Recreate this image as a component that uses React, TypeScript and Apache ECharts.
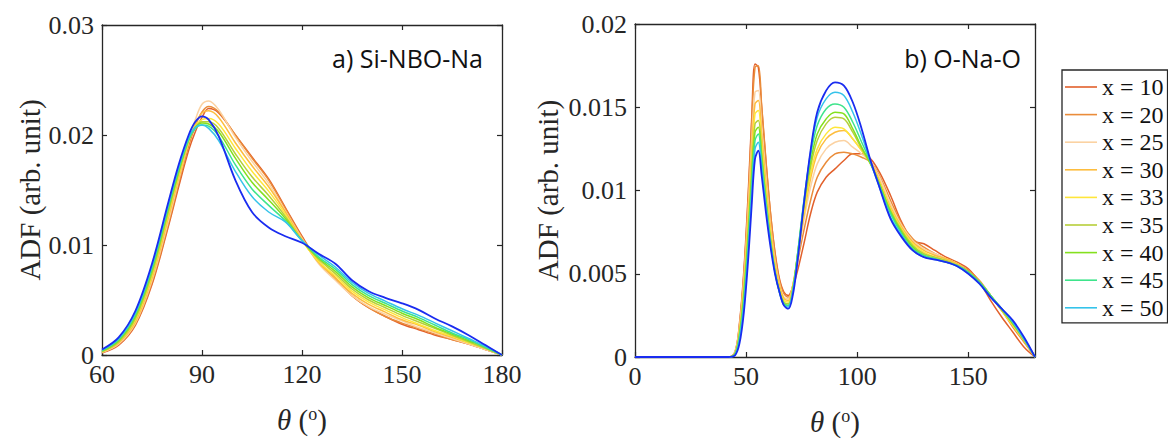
import React, { useEffect, useRef } from 'react';
import * as echarts from 'echarts';

// ---------- data (values in units of 1e-3) ----------
const SERIES_NAMES = ['x = 10', 'x = 20', 'x = 25', 'x = 30', 'x = 33', 'x = 35', 'x = 40', 'x = 45', 'x = 50'];
const EXTRA_NAME = 'blue curve';
const COLORS = ['#e2602b', '#ea8c3a', '#fbd2a2', '#fdbd3e', '#ffe63a', '#b7cf3a', '#84e01e', '#3ee48b', '#35c3ea', '#1a2cf0'];

const LEFT_THETA = [60, 65, 70, 75, 80, 83, 86, 88, 90, 92, 95, 100, 105, 110, 115, 120, 125, 130, 135, 140, 145, 150, 155, 160, 165, 170, 175, 180];
const LEFT_X10 = [0.2, 0.9, 2.7, 6.4, 11.8, 15.3, 18.6, 20.3, 21.6, 22.4, 22.0, 20.0, 18.0, 16.0, 13.4, 10.8, 8.5, 7.0, 5.4, 4.3, 3.5, 2.8, 2.3, 1.8, 1.4, 1.0, 0.5, 0];
const LEFT_X20 = [0.2, 1.0, 2.8, 6.6, 12.0, 15.6, 19.0, 20.8, 22.1, 22.6, 22.1, 20.0, 17.9, 15.9, 13.3, 10.7, 8.4, 6.9, 5.4, 4.3, 3.5, 2.9, 2.4, 1.9, 1.4, 1.0, 0.5, 0];
const LEFT_X25 = [0.25, 1.0, 2.9, 6.8, 12.3, 15.9, 19.4, 21.4, 22.8, 23.1, 22.3, 19.8, 17.6, 15.6, 13.1, 10.6, 8.3, 6.8, 5.4, 4.4, 3.7, 3.1, 2.5, 2.0, 1.5, 1.0, 0.5, 0];
const LEFT_X30 = [0.3, 1.1, 3.0, 7.0, 12.6, 16.1, 19.4, 21.0, 22.0, 22.2, 21.6, 19.3, 17.2, 15.3, 13.0, 10.5, 8.4, 7.0, 5.6, 4.6, 3.9, 3.2, 2.7, 2.1, 1.6, 1.1, 0.6, 0];
const LEFT_X33 = [0.3, 1.2, 3.2, 7.2, 12.9, 16.3, 19.4, 20.8, 21.4, 21.5, 21.0, 18.8, 16.7, 14.9, 12.8, 10.4, 8.5, 7.2, 5.8, 4.8, 4.1, 3.4, 2.8, 2.2, 1.7, 1.1, 0.6, 0];
const LEFT_X35 = [0.3, 1.2, 3.3, 7.4, 13.1, 16.5, 19.5, 20.7, 21.2, 21.2, 20.6, 18.3, 16.2, 14.5, 12.6, 10.4, 8.7, 7.4, 6.0, 5.0, 4.3, 3.6, 3.0, 2.4, 1.8, 1.2, 0.6, 0];
const LEFT_X40 = [0.35, 1.3, 3.5, 7.7, 13.4, 16.7, 19.6, 20.7, 21.1, 21.0, 20.3, 17.9, 15.7, 14.1, 12.4, 10.4, 8.8, 7.6, 6.2, 5.2, 4.5, 3.8, 3.2, 2.5, 1.9, 1.3, 0.7, 0];
const LEFT_X45 = [0.4, 1.4, 3.7, 7.9, 13.6, 16.9, 19.6, 20.6, 20.9, 20.8, 19.9, 17.3, 15.1, 13.6, 12.2, 10.4, 8.9, 7.8, 6.4, 5.4, 4.7, 4.0, 3.4, 2.7, 2.0, 1.4, 0.7, 0];
const LEFT_X50 = [0.45, 1.5, 3.8, 8.1, 13.8, 17.1, 19.8, 20.7, 20.9, 20.6, 19.5, 16.7, 14.4, 13.0, 12.1, 10.4, 9.1, 8.0, 6.6, 5.6, 4.9, 4.2, 3.6, 2.9, 2.2, 1.5, 0.8, 0];
const LEFT_EXTRA = [0.5, 1.6, 4.0, 8.3, 14.0, 17.3, 20.0, 21.2, 21.7, 21.4, 19.9, 15.9, 13.0, 11.6, 10.8, 10.2, 9.2, 8.3, 6.8, 5.8, 5.2, 4.7, 4.1, 3.3, 2.6, 1.8, 0.9, 0];

const RIGHT_THETA = [0, 42, 45, 47, 49, 51, 52.5, 54, 55.5, 57, 59, 61, 63, 65, 67, 69, 71, 73, 76, 79, 82, 86, 90, 94, 98, 102, 106, 110, 115, 120, 125, 130, 135, 140, 145, 150, 155, 160, 165, 170, 175, 180];
const RIGHT_X10 = [0, 0, 0.3, 2.0, 5.2, 10.0, 14.3, 17.6, 17.4, 15.0, 11.6, 8.6, 6.3, 4.7, 3.9, 3.7, 4.2, 5.1, 6.8, 8.6, 9.9, 10.8, 11.3, 11.8, 12.2, 12.2, 11.9, 11.1, 9.7, 8.1, 7.0, 6.8, 6.4, 6.0, 5.7, 5.3, 4.5, 3.4, 2.4, 1.5, 0.6, 0];
const RIGHT_X20 = [0, 0, 0.3, 1.9, 5.0, 9.7, 14.0, 17.4, 17.5, 15.1, 11.7, 8.6, 6.2, 4.6, 3.8, 3.6, 4.3, 5.6, 7.6, 9.4, 10.8, 11.7, 12.2, 12.3, 12.2, 12.0, 11.7, 10.9, 9.4, 8.0, 7.1, 6.6, 6.2, 5.9, 5.6, 5.2, 4.6, 3.7, 2.8, 1.8, 0.9, 0];
const RIGHT_X25 = [0, 0, 0.3, 1.8, 4.7, 9.0, 12.9, 15.9, 16.0, 13.8, 10.7, 7.9, 5.8, 4.4, 3.6, 3.5, 4.3, 5.8, 8.2, 10.2, 11.6, 12.5, 12.9, 13.0, 12.6, 12.2, 11.7, 10.8, 9.2, 7.9, 7.0, 6.5, 6.2, 5.9, 5.6, 5.1, 4.5, 3.7, 2.8, 1.9, 1.0, 0];
const RIGHT_X30 = [0, 0, 0.2, 1.6, 4.4, 8.6, 12.3, 15.2, 15.4, 13.3, 10.3, 7.7, 5.6, 4.3, 3.5, 3.4, 4.3, 5.9, 8.5, 10.7, 12.2, 13.1, 13.5, 13.6, 13.1, 12.4, 11.7, 10.6, 9.0, 7.8, 6.9, 6.4, 6.1, 5.9, 5.6, 5.1, 4.5, 3.7, 2.8, 1.9, 1.0, 0];
const RIGHT_X33 = [0, 0, 0.2, 1.5, 4.1, 8.1, 11.7, 14.6, 14.8, 12.8, 9.9, 7.4, 5.4, 4.1, 3.4, 3.3, 4.2, 5.9, 8.7, 11.0, 12.5, 13.4, 13.8, 13.7, 13.1, 12.4, 11.6, 10.5, 8.9, 7.7, 6.8, 6.3, 6.0, 5.8, 5.5, 5.1, 4.5, 3.7, 2.8, 1.9, 1.0, 0];
const RIGHT_X35 = [0, 0, 0.2, 1.4, 3.9, 7.7, 11.2, 14.0, 14.2, 12.3, 9.5, 7.1, 5.2, 4.0, 3.3, 3.2, 4.1, 6.0, 9.0, 11.4, 13.0, 14.0, 14.4, 14.3, 13.5, 12.5, 11.6, 10.4, 8.8, 7.6, 6.7, 6.2, 6.0, 5.8, 5.5, 5.1, 4.5, 3.7, 2.8, 2.0, 1.0, 0];
const RIGHT_X40 = [0, 0, 0.2, 1.3, 3.7, 7.4, 10.8, 13.5, 13.8, 12.0, 9.3, 7.0, 5.1, 3.9, 3.2, 3.1, 4.0, 6.0, 9.2, 11.7, 13.4, 14.3, 14.7, 14.6, 13.7, 12.6, 11.6, 10.4, 8.7, 7.5, 6.6, 6.1, 5.9, 5.7, 5.5, 5.1, 4.5, 3.7, 2.9, 2.0, 1.1, 0];
const RIGHT_X45 = [0, 0, 0.15, 1.2, 3.4, 7.0, 10.3, 13.0, 13.4, 11.7, 9.1, 6.9, 5.1, 3.9, 3.2, 3.1, 4.0, 6.0, 9.4, 12.1, 13.9, 14.9, 15.2, 15.0, 14.1, 12.9, 11.7, 10.3, 8.6, 7.4, 6.5, 6.1, 5.9, 5.7, 5.5, 5.1, 4.5, 3.7, 2.9, 2.1, 1.1, 0];
const RIGHT_X50 = [0, 0, 0.12, 1.0, 3.1, 6.5, 9.7, 12.5, 12.9, 11.3, 8.9, 6.8, 5.1, 3.9, 3.1, 3.0, 3.9, 5.8, 9.3, 12.3, 14.4, 15.5, 15.9, 15.7, 14.7, 13.3, 11.7, 10.2, 8.4, 7.3, 6.4, 6.0, 5.85, 5.7, 5.45, 5.0, 4.4, 3.6, 2.9, 2.1, 1.1, 0];
const RIGHT_EXTRA = [0, 0, 0.1, 0.8, 2.7, 6.0, 9.1, 11.9, 12.4, 10.9, 8.6, 6.6, 5.0, 3.9, 3.1, 2.9, 3.7, 5.6, 9.2, 12.4, 14.7, 16.0, 16.5, 16.3, 15.3, 13.7, 11.8, 10.2, 8.3, 7.2, 6.4, 6.0, 5.85, 5.7, 5.45, 5.0, 4.4, 3.6, 2.9, 2.2, 1.2, 0];

const LEFT_VALUES = [LEFT_X10, LEFT_X20, LEFT_X25, LEFT_X30, LEFT_X33, LEFT_X35, LEFT_X40, LEFT_X45, LEFT_X50, LEFT_EXTRA];
const RIGHT_VALUES = [RIGHT_X10, RIGHT_X20, RIGHT_X25, RIGHT_X30, RIGHT_X33, RIGHT_X35, RIGHT_X40, RIGHT_X45, RIGHT_X50, RIGHT_EXTRA];

const LEFT_X_TICKS = { min: 60, max: 180, interval: 30 };
const RIGHT_X_TICKS = { min: 0, max: 180, interval: 50 };
const LEFT_Y_TICKS = { min: 0, max: 0.03, interval: 0.01 };
const RIGHT_Y_TICKS = { min: 0, max: 0.02, interval: 0.005 };

const Y_NAME = 'ADF (arb. unit)';
const TITLE_A = 'a) Si-NBO-Na';
const TITLE_B = 'b) O-Na-O';

// ---------- styling ----------
const SERIF = 'Liberation Serif';
const AX = '#262626';

const fmtY = (v: number) => (v === 0 ? '0' : String(+v.toFixed(3)));

function makeX(gridIndex: number, ticks: any, bottom: boolean, hideMax: boolean) {
  return {
    type: 'value',
    gridIndex,
    position: bottom ? 'bottom' : 'top',
    min: ticks.min,
    max: ticks.max,
    interval: ticks.interval,
    axisLine: { show: true, onZero: false, lineStyle: { color: AX, width: 1.3 } },
    axisTick: { show: true, inside: true, length: 5, lineStyle: { color: AX, width: 1.2 } },
    splitLine: { show: false },
    axisLabel: bottom
      ? { show: true, fontFamily: SERIF, fontSize: 26, lineHeight: 20, color: AX, margin: 9, showMaxLabel: !hideMax, showMinLabel: true }
      : { show: false },
    name: bottom ? '{t|θ} ({s|o})' : '',
    nameLocation: 'middle',
    nameGap: 50,
    nameTextStyle: {
      fontFamily: SERIF,
      fontSize: 29,
      color: AX,
      rich: {
        t: { fontFamily: SERIF, fontSize: 29, fontStyle: 'italic', color: AX },
        s: { fontFamily: SERIF, fontSize: 18, color: AX, verticalAlign: 'top' },
      },
    },
  };
}

function makeY(gridIndex: number, ticks: any, left: boolean, gap: number) {
  return {
    type: 'value',
    gridIndex,
    position: left ? 'left' : 'right',
    min: ticks.min,
    max: ticks.max,
    interval: ticks.interval,
    axisLine: { show: true, onZero: false, lineStyle: { color: AX, width: 1.3 } },
    axisTick: { show: true, inside: true, length: 5, lineStyle: { color: AX, width: 1.2 } },
    splitLine: { show: false },
    axisLabel: left
      ? { show: true, fontFamily: SERIF, fontSize: 26, lineHeight: 18, color: AX, margin: 8, formatter: fmtY, showMinLabel: true, showMaxLabel: true }
      : { show: false },
    name: left ? Y_NAME : '',
    nameLocation: 'middle',
    nameGap: gap,
    nameRotate: 90,
    nameTextStyle: { fontFamily: SERIF, fontSize: 29, color: AX },
  };
}

export default function App() {
  const ref = useRef<HTMLDivElement>(null);
  useEffect(() => {
    if (!ref.current) return;
    const chart = echarts.init(ref.current, undefined, { renderer: 'svg' });
    const allNames = [...SERIES_NAMES, EXTRA_NAME];
    const series: any[] = [];
    allNames.forEach((name, i) => {
      const common = {
        type: 'line',
        name,
        symbol: 'none',
        smooth: 0.35,
        lineStyle: { color: COLORS[i], width: i === 9 ? 1.8 : 1.5 },
        itemStyle: { color: COLORS[i] },
        z: 2 + i,
      };
      series.push({
        ...common,
        xAxisIndex: 0,
        yAxisIndex: 0,
        data: LEFT_THETA.map((t, k) => [t, LEFT_VALUES[i][k] / 1000]),
      });
      series.push({
        ...common,
        xAxisIndex: 2,
        yAxisIndex: 2,
        data: RIGHT_THETA.map((t, k) => [t, RIGHT_VALUES[i][k] / 1000]),
      });
    });

    chart.setOption({
      animation: false,
      backgroundColor: '#ffffff',
      grid: [
        { left: 102, top: 25, width: 400, height: 330, containLabel: false },
        { left: 635, top: 24, width: 400, height: 333, containLabel: false },
      ],
      xAxis: [
        makeX(0, LEFT_X_TICKS, true, false),
        makeX(0, LEFT_X_TICKS, false, false),
        makeX(1, RIGHT_X_TICKS, true, true),
        makeX(1, RIGHT_X_TICKS, false, true),
      ],
      yAxis: [
        makeY(0, LEFT_Y_TICKS, true, 58),
        makeY(0, LEFT_Y_TICKS, false, 0),
        makeY(1, RIGHT_Y_TICKS, true, 73),
        makeY(1, RIGHT_Y_TICKS, false, 0),
      ],
      legend: {
        data: SERIES_NAMES,
        orient: 'vertical',
        left: 1062,
        top: 70,
        icon: 'rect',
        itemWidth: 32,
        itemHeight: 1.6,
        itemGap: 3.6,
        padding: [5, 4, 3, 3],
        borderColor: AX,
        borderWidth: 1.3,
        backgroundColor: '#ffffff',
        selectedMode: false,
        textStyle: { fontFamily: SERIF, fontSize: 24, color: '#111', lineHeight: 24 },
      },
      graphic: [
        {
          type: 'text',
          right: 1168 - 483,
          top: 45,
          style: { text: TITLE_A, fontFamily: 'Open Sans', fontSize: 25, fill: '#111' },
        },
        {
          type: 'text',
          right: 1168 - 1021,
          top: 45,
          style: { text: TITLE_B, fontFamily: 'Open Sans', fontSize: 25, fill: '#111' },
        },
      ],
      series,
    });
    return () => chart.dispose();
  }, []);
  return (
    <div
      ref={ref}
      style={{ position: 'fixed', left: 0, top: 0, width: 1168, height: 441, background: '#fff' }}
    />
  );
}
